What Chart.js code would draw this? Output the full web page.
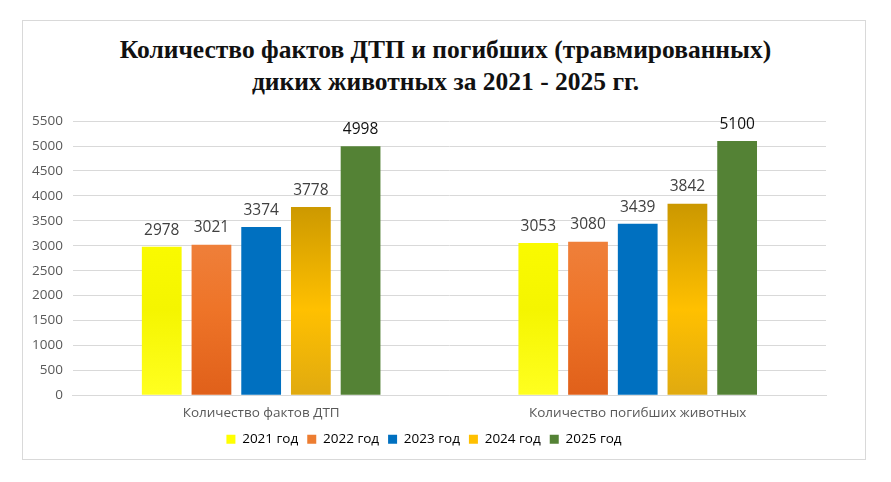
<!DOCTYPE html>
<html><head><meta charset="utf-8">
<script src="https://cdn.jsdelivr.net/npm/chart.js@4"></script>
<style>
html,body{margin:0;padding:0;background:#fff;}
#frame{position:absolute;left:22px;top:20px;width:844px;height:440px;border:1px solid #d9d9d9;box-sizing:border-box;}
#title{position:absolute;left:0;top:34px;width:891px;text-align:center;font-family:"Liberation Serif","DejaVu Serif",serif;font-weight:bold;font-size:25.5px;line-height:32px;color:#111;}
#wrap{position:absolute;left:22px;top:103px;width:844px;height:353px;}
</style></head><body>
<div id="frame"></div>
<div id="title">Количество фактов ДТП и погибших (травмированных)<br>диких животных за 2021 - 2025 гг.</div>
<div id="wrap"><canvas id="c"></canvas></div>
<script>
const categories=["Количество фактов ДТП","Количество погибших животных"];
const seriesNames=["2021 год","2022 год","2023 год","2024 год","2025 год"];
const v2021=[2978,3053];
const v2022=[3021,3080];
const v2023=[3374,3439];
const v2024=[3778,3842];
const v2025=[4998,5100];
const yTicks=[0,500,1000,1500,2000,2500,3000,3500,4000,4500,5000,5500];
const values=[v2021,v2022,v2023,v2024,v2025];
const grads=[["#ffff00","#f5f500","#ffff20"],["#f08a4b","#ee7428","#e0601a"],["#0070c0","#0070c0","#0070c0"],["#c08f00","#ffc000","#e0aa10"],["#548235","#548235","#548235"]];
const legendColors=["#ffff00","#ed7d31","#0070c0","#ffc000","#548235"];
function mk(i){return function(ctx){const a=ctx.chart.chartArea;if(!a)return legendColors[i];const g=ctx.chart.ctx.createLinearGradient(0,a.top+60,0,a.bottom);g.addColorStop(0,grads[i][0]);g.addColorStop(0.6,grads[i][1]);g.addColorStop(1,grads[i][2]);return g;};}
const labelPlugin={id:'lbl',afterDatasetsDraw(ch){const c=ch.ctx;c.save();c.font='15.5px "Open Sans",sans-serif';c.textAlign='center';c.textBaseline='bottom';
ch.data.datasets.forEach((d,i)=>{ch.getDatasetMeta(i).data.forEach((b,j)=>{c.fillStyle=i==4?'#111':'#404040';c.fillText(d.data[j],b.x,b.y-9);});});c.restore();}};
new Chart(document.getElementById('c'),{type:'bar',
data:{labels:categories,datasets:seriesNames.map((n,i)=>({label:n,data:values[i],backgroundColor:mk(i),borderWidth:0}))},
options:{responsive:true,maintainAspectRatio:false,animation:false,
layout:{padding:{left:0,right:40,top:8,bottom:0}},
datasets:{bar:{categoryPercentage:0.66,barPercentage:0.8}},
scales:{y:{min:0,max:5500,afterBuildTicks(s){s.ticks=yTicks.map(v=>({value:v}));},grid:{color:'#d9d9d9',drawTicks:false},border:{display:false},ticks:{padding:10,color:'#595959',callback:v=>String(v),font:{size:13.5,family:'"Open Sans",sans-serif'}}},
x:{grid:{display:false},border:{color:'#d9d9d9'},ticks:{color:'#595959',font:{size:13.5,family:'"Open Sans",sans-serif'},padding:2}}},
plugins:{legend:{position:'bottom',labels:{boxWidth:9,boxHeight:9,padding:9,color:'#595959',font:{size:13.5,family:'"Open Sans",sans-serif'},generateLabels(ch){return seriesNames.map((n,i)=>({text:n,fillStyle:legendColors[i],strokeStyle:legendColors[i],lineWidth:0,datasetIndex:i}));}}},tooltip:{enabled:false}}},
plugins:[labelPlugin]});
</script></body></html>
